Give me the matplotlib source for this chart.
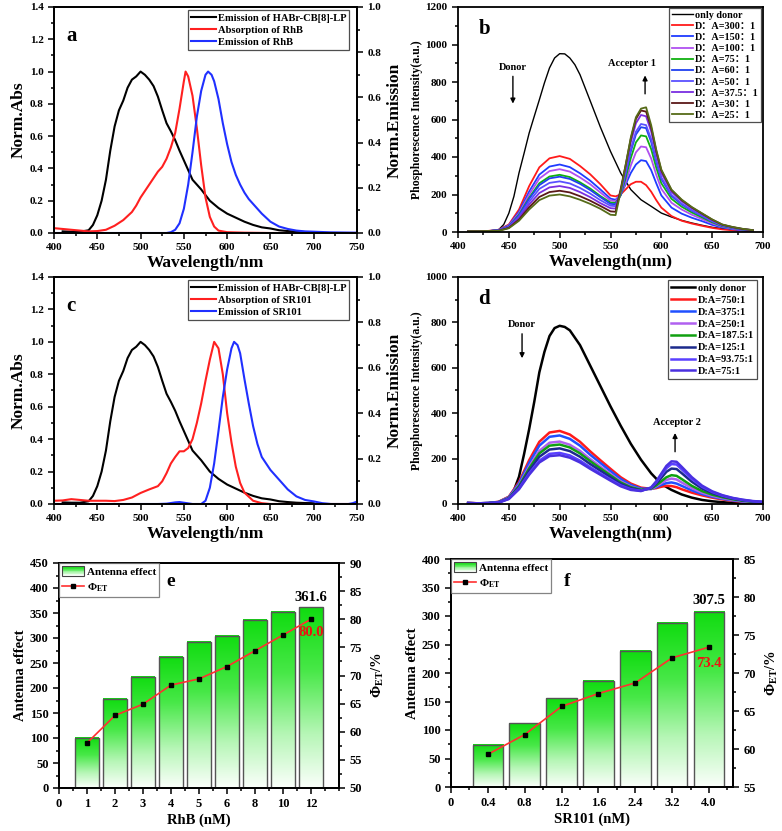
import numpy as np
import matplotlib
matplotlib.use('Agg')
import matplotlib.pyplot as plt
from matplotlib.ticker import MultipleLocator, FixedLocator, FormatStrFormatter
from matplotlib.colors import LinearSegmentedColormap
from matplotlib.legend_handler import HandlerBase
from matplotlib.patches import Rectangle
from matplotlib.lines import Line2D

plt.rcParams['font.family'] = ['Liberation Serif', 'Noto Sans CJK SC', 'DejaVu Sans']
plt.rcParams['font.weight'] = 'bold'
plt.rcParams['axes.labelweight'] = 'bold'
plt.rcParams['mathtext.fontset'] = 'custom'
plt.rcParams['mathtext.rm'] = 'Liberation Serif:bold'
plt.rcParams['mathtext.bf'] = 'Liberation Serif:bold'
plt.rcParams['mathtext.it'] = 'Liberation Serif:bold:italic'
plt.rcParams['axes.linewidth'] = 1.3

# ---------------- data: panel a / c ----------------
wl_donor = [410, 420, 430, 440, 445, 450, 455, 460, 465, 470, 475, 480, 485, 490, 495, 500,
            505, 510, 515, 520, 525, 530, 535, 540, 545, 550, 555, 560, 570, 580, 590, 600,
            610, 620, 630, 640, 650, 660, 670, 680, 690, 700]
donor_norm = [0.01, 0.008, 0.008, 0.017, 0.05, 0.11, 0.2, 0.33, 0.51, 0.66, 0.76, 0.82, 0.9, 0.95, 0.97, 1.0,
              0.98, 0.95, 0.91, 0.845, 0.76, 0.68, 0.63, 0.575, 0.51, 0.45, 0.39, 0.33, 0.27, 0.2, 0.155, 0.12,
              0.095, 0.07, 0.05, 0.035, 0.028, 0.017, 0.012, 0.008, 0.006, 0.005]

wl_rhb_abs = [400, 410, 420, 430, 440, 450, 460, 470, 480, 490, 495, 500, 505, 510, 515, 520, 525, 530,
              535, 540, 545, 550, 552, 555, 560, 565, 570, 575, 580, 585, 590, 600, 620, 650, 700, 750]
rhb_abs = [0.03, 0.025, 0.02, 0.015, 0.01, 0.012, 0.02, 0.045, 0.08, 0.13, 0.17, 0.22, 0.26, 0.3, 0.34, 0.38,
           0.41, 0.46, 0.53, 0.62, 0.77, 0.94, 1.0, 0.97, 0.85, 0.65, 0.42, 0.22, 0.1, 0.04, 0.015, 0.005,
           0.002, 0.0, 0.0, 0.0]

wl_rhb_em = [400, 450, 500, 530, 535, 540, 545, 550, 555, 560, 565, 570, 575, 578, 582, 585, 590, 595,
             600, 605, 610, 615, 620, 625, 630, 635, 640, 645, 650, 660, 670, 680, 690, 700, 720, 750]
rhb_em = [0.0, 0.0, 0.0, 0.0, 0.005, 0.02, 0.06, 0.15, 0.3, 0.5, 0.72, 0.88, 0.98, 1.0, 0.98, 0.94, 0.83, 0.68,
          0.55, 0.44, 0.36, 0.3, 0.25, 0.21, 0.18, 0.15, 0.12, 0.095, 0.07, 0.04, 0.025, 0.015, 0.01, 0.008,
          0.004, 0.002]

wl_sr_abs = [400, 410, 420, 430, 440, 450, 460, 470, 480, 490, 500, 510, 515, 520, 525, 530, 535, 540, 545,
             550, 555, 560, 565, 570, 575, 580, 585, 590, 595, 600, 605, 610, 615, 620, 630, 640, 650, 750]
sr_abs = [0.02, 0.022, 0.03, 0.025, 0.02, 0.02, 0.02, 0.018, 0.025, 0.04, 0.068, 0.09, 0.1, 0.11, 0.14, 0.19,
          0.25, 0.29, 0.325, 0.325, 0.345, 0.4, 0.5, 0.62, 0.76, 0.89, 1.0, 0.96, 0.8, 0.56, 0.38, 0.23, 0.13,
          0.07, 0.02, 0.005, 0.0, 0.0]

wl_sr_em = [400, 520, 530, 535, 540, 545, 550, 555, 560, 565, 570, 575, 580, 585, 590, 595, 600, 605, 608, 612,
            615, 620, 625, 630, 635, 640, 645, 650, 655, 660, 665, 670, 680, 690, 700, 710, 720, 740, 745, 750]
sr_em = [0.0, 0.0, 0.002, 0.006, 0.01, 0.012, 0.008, 0.004, 0.0, 0.0, 0.0, 0.02, 0.1, 0.25, 0.45, 0.66, 0.83,
         0.96, 1.0, 0.98, 0.93, 0.77, 0.62, 0.48, 0.37, 0.29, 0.25, 0.21, 0.18, 0.15, 0.12, 0.09, 0.047, 0.025,
         0.016, 0.005, 0.0, 0.0, 0.005, 0.015]

# ---------------- data: panel b ----------------
wl_b_donor = [410, 420, 430, 440, 445, 450, 455, 460, 465, 470, 475, 480, 485, 490, 495, 500, 505, 510, 515,
              520, 530, 540, 550, 560, 570, 580, 590, 600, 610, 620, 630, 640, 650, 660, 670, 680, 690]
b_only_donor = [5, 5, 5, 12, 40, 100, 190, 315, 420, 528, 617, 705, 795, 875, 928, 951, 950, 928, 892,
                839, 700, 560, 430, 315, 226, 172, 137, 101, 80, 62, 48, 36, 25, 18, 12, 9, 5]
wl_b = [410, 420, 430, 440, 450, 460, 470, 480, 490, 500, 510, 520, 530, 540, 550, 555, 560, 565, 570, 575,
        580, 585, 590, 595, 600, 610, 620, 630, 640, 650, 660, 670, 680, 690]
b_300 = [4, 4, 6, 12, 40, 120, 245, 345, 393, 405, 390, 352, 308, 255, 195, 190, 200, 228, 255, 268,
         268, 250, 215, 170, 130, 85, 60, 45, 33, 22, 14, 9, 6, 4]
b_150 = [4, 4, 5, 11, 36, 108, 216, 306, 349, 360, 346, 313, 274, 227, 178, 172, 200, 255, 315, 360,
         383, 378, 330, 260, 195, 130, 98, 76, 58, 38, 24, 15, 9, 6]
b_100 = [4, 4, 5, 10, 34, 100, 200, 285, 325, 335, 322, 291, 255, 211, 168, 165, 200, 265, 355, 425,
         456, 452, 392, 305, 230, 156, 120, 92, 69, 46, 28, 18, 11, 7]
b_75 = [4, 4, 5, 9, 30, 92, 183, 260, 296, 305, 293, 265, 232, 192, 157, 155, 195, 290, 395, 478,
        515, 510, 442, 343, 260, 177, 135, 104, 78, 52, 31, 21, 13, 8]
b_60 = [4, 4, 5, 9, 30, 88, 177, 250, 286, 295, 283, 257, 224, 186, 150, 148, 198, 311, 430, 520,
        559, 554, 480, 373, 283, 192, 147, 113, 85, 57, 34, 23, 14, 8]
b_50 = [4, 4, 5, 8, 27, 81, 162, 230, 262, 270, 259, 235, 205, 170, 140, 138, 204, 320, 442, 535,
        576, 570, 495, 384, 291, 198, 151, 116, 87, 58, 35, 23, 15, 9]
b_37_5 = [4, 4, 5, 7, 25, 74, 147, 208, 238, 245, 235, 213, 186, 154, 127, 125, 220, 347, 479, 580,
          624, 617, 536, 416, 315, 214, 164, 126, 95, 63, 38, 25, 16, 9]
b_30 = [4, 4, 5, 7, 22, 66, 132, 187, 213, 220, 211, 191, 167, 139, 110, 108, 229, 360, 498, 603,
        648, 642, 557, 432, 328, 223, 170, 131, 98, 66, 39, 26, 16, 10]
b_25 = [4, 4, 5, 6, 20, 60, 120, 170, 194, 200, 190, 172, 150, 124, 92, 90, 215, 360, 505, 612,
        658, 665, 570, 439, 333, 226, 173, 133, 100, 67, 40, 27, 17, 10]
b_labels = ['only donor', 'D：A=300：1', 'D：A=150：1', 'D：A=100：1', 'D：A=75：1', 'D：A=60：1',
            'D：A=50：1', 'D：A=37.5：1', 'D：A=30：1', 'D：A=25：1']
b_colors = ['#000000', '#ff1a1a', '#1f3cff', '#b050f0', '#10b010', '#2040f0', '#5a50ff', '#7a2ee0',
            '#5a1818', '#566b18']

# ---------------- data: panel d ----------------
wl_d_donor = [410, 420, 430, 440, 450, 455, 460, 465, 470, 475, 480, 485, 490, 495, 500, 505, 510, 520,
              530, 540, 550, 560, 570, 580, 590, 600, 610, 620, 630, 640, 650, 660, 670, 680, 690, 700]
d_only_donor = [3, 3, 3, 8, 30, 60, 120, 220, 330, 450, 580, 670, 740, 775, 785, 780, 765, 700,
                610, 520, 430, 345, 265, 195, 135, 88, 62, 42, 28, 18, 12, 8, 5, 3, 2, 1]
wl_d = [410, 420, 430, 440, 450, 460, 470, 480, 490, 500, 510, 520, 530, 540, 550, 560, 570, 580, 590,
        595, 600, 605, 610, 615, 620, 630, 640, 650, 660, 670, 680, 690, 700]
d_750 = [5, 3, 4, 10, 32, 97, 193, 274, 315, 322, 306, 274, 232, 193, 155, 118, 90, 72, 67,
         70, 76, 80, 79, 74, 65, 50, 38, 28, 20, 14, 10, 7, 5]
d_375 = [4, 3, 4, 9, 30, 91, 181, 257, 296, 302, 287, 257, 217, 181, 145, 110, 84, 68, 66,
         74, 84, 92, 95, 90, 80, 60, 44, 32, 23, 16, 11, 8, 5]
d_250 = [4, 3, 4, 8, 28, 83, 165, 234, 270, 275, 261, 234, 198, 165, 132, 100, 77, 64, 66,
         78, 92, 106, 112, 108, 95, 70, 50, 36, 26, 18, 12, 8, 6]
d_187_5 = [4, 3, 4, 8, 26, 79, 157, 223, 257, 262, 249, 223, 189, 157, 126, 95, 74, 63, 68,
           82, 100, 118, 127, 124, 110, 80, 57, 41, 30, 21, 14, 10, 7]
d_125 = [4, 3, 4, 7, 25, 74, 147, 208, 240, 245, 233, 208, 176, 147, 118, 89, 70, 60, 70,
         90, 115, 142, 156, 154, 136, 98, 68, 48, 34, 24, 16, 11, 8]
d_93_75 = [4, 3, 4, 7, 23, 68, 135, 191, 221, 225, 214, 191, 162, 135, 108, 82, 65, 58, 72,
           96, 127, 158, 176, 174, 153, 110, 76, 53, 37, 26, 18, 12, 9]
d_75 = [4, 3, 4, 6, 22, 65, 129, 183, 211, 215, 204, 183, 155, 129, 103, 78, 62, 57, 73,
        100, 134, 168, 188, 186, 164, 118, 81, 56, 39, 27, 19, 13, 10]
d_labels = ['only donor', 'D:A=750:1', 'D:A=375:1', 'D:A=250:1', 'D:A=187.5:1', 'D:A=125:1',
            'D:A=93.75:1', 'D:A=75:1']
d_colors = ['#000000', '#ff1a1a', '#2050ff', '#b060f0', '#10a010', '#1c2a8c', '#5a40ff', '#4a30e0']

# ---------------- data: panels e / f ----------------
cats_e = ['1', '2', '3', '4', '5', '6', '8', '10', '12']
antenna_e = [101, 178, 222, 263, 292, 305, 337, 352, 361.6]
phi_e = [58.0, 62.9, 64.9, 68.3, 69.4, 71.6, 74.4, 77.2, 80.0]

cats_f = ['0.4', '0.8', '1.2', '1.6', '2.4', '3.2', '4.0']
antenna_f = [74, 112, 156, 186, 239, 288, 307.5]
phi_f = [59.3, 61.9, 65.6, 67.3, 68.7, 72.0, 73.4]

W, H = 782, 831
fig = plt.figure(figsize=(W / 100, H / 100), dpi=100)


def rect(l, r, t, b):
    return [l / W, 1 - b / H, (r - l) / W, (b - t) / H]


def style(ax, fs=8):
    ax.tick_params(which='both', direction='out', width=1.1, labelsize=fs)
    ax.tick_params(which='major', length=4)
    ax.tick_params(which='minor', length=2)
    for s in ax.spines.values():
        s.set_linewidth(1.3)


def legend_frame(leg):
    f = leg.get_frame()
    f.set_edgecolor('#222222')
    f.set_linewidth(0.9)


# ---------------- panel a / c ----------------
def spectra_panel(box, abs_x, abs_y, em_x, em_y, labels, letter):
    ax = fig.add_axes(rect(*box))
    ax.plot(wl_donor, donor_norm, color='black', lw=1.5, label=labels[0])
    ax.plot(abs_x, abs_y, color='#ff2020', lw=1.5, label=labels[1])
    ax.plot(em_x, em_y, color='#2030ff', lw=1.5, label=labels[2])
    ax.set_xlim(400, 750)
    ax.set_ylim(0, 1.4)
    ax.xaxis.set_major_locator(MultipleLocator(50))
    ax.xaxis.set_minor_locator(MultipleLocator(25))
    ax.yaxis.set_major_locator(MultipleLocator(0.2))
    ax.yaxis.set_minor_locator(MultipleLocator(0.1))
    ax.yaxis.set_major_formatter(FormatStrFormatter('%.1f'))
    style(ax)
    ax.set_xlabel('Wavelength/nm', fontsize=12.5, labelpad=2)
    ax.set_ylabel('Norm.Abs', fontsize=12.5, labelpad=2)
    ax2 = ax.twinx()
    ax2.set_ylim(0, 1.0)
    ax2.yaxis.set_major_locator(MultipleLocator(0.2))
    ax2.yaxis.set_minor_locator(MultipleLocator(0.1))
    ax2.yaxis.set_major_formatter(FormatStrFormatter('%.1f'))
    style(ax2)
    ax2.set_ylabel('Norm.Emission', fontsize=12.5, labelpad=4)
    leg = ax.legend(loc='upper right', bbox_to_anchor=(0.975, 0.985), fontsize=7.6, frameon=True,
                    fancybox=False, borderpad=0.3, labelspacing=0.25, handlelength=2.3,
                    handletextpad=0.2, borderaxespad=0)
    legend_frame(leg)
    ax.text(414, 1.22, letter, fontsize=15, fontweight='bold', va='center', ha='left')
    return ax


spectra_panel((54, 357, 7, 233), wl_rhb_abs, rhb_abs, wl_rhb_em, rhb_em,
              ['Emission of HABr-CB[8]-LP', 'Absorption of RhB', 'Emission of RhB'], 'a')
spectra_panel((54, 357, 277, 504), wl_sr_abs, sr_abs, wl_sr_em, sr_em,
              ['Emission of HABr-CB[8]-LP', 'Absorption of SR101', 'Emission of SR101'], 'c')

# ---------------- panel b ----------------
axb = fig.add_axes(rect(458, 763, 7, 232))
b_series = [b_300, b_150, b_100, b_75, b_60, b_50, b_37_5, b_30, b_25]
axb.plot(wl_b_donor, b_only_donor, color=b_colors[0], lw=1.0, label=b_labels[0])
for ys, c, lab in zip(b_series, b_colors[1:], b_labels[1:]):
    axb.plot(wl_b, ys, color=c, lw=1.3, label=lab)
axb.set_xlim(400, 700)
axb.set_ylim(0, 1200)
axb.xaxis.set_major_locator(MultipleLocator(50))
axb.xaxis.set_minor_locator(MultipleLocator(25))
axb.yaxis.set_major_locator(MultipleLocator(200))
axb.yaxis.set_minor_locator(MultipleLocator(100))
style(axb)
axb.set_xlabel('Wavelength(nm)', fontsize=12.5, labelpad=2)
axb.set_ylabel('Phosphorescence Intensity(a.u.)', fontsize=8.5, labelpad=2)
leg = axb.legend(loc='upper right', bbox_to_anchor=(0.995, 0.995), fontsize=7.3, frameon=True,
                 fancybox=False, borderpad=0.25, labelspacing=0.2, handlelength=2.1,
                 handletextpad=0.2, borderaxespad=0)
legend_frame(leg)
axb.text(420, 1085, 'b', fontsize=15, fontweight='bold', va='center')
axb.text(454, 880, 'Donor', fontsize=7.5, ha='center', va='center')
axb.annotate('', xy=(454, 670), xytext=(454, 845),
             arrowprops=dict(arrowstyle='-|>', color='k', lw=1.0, mutation_scale=7))
axb.text(571, 900, 'Acceptor 1', fontsize=7.5, ha='center', va='center')
axb.annotate('', xy=(584, 850), xytext=(584, 722),
             arrowprops=dict(arrowstyle='-|>', color='k', lw=1.0, mutation_scale=7))

# ---------------- panel d ----------------
axd = fig.add_axes(rect(458, 763, 277, 504))
d_series = [d_750, d_375, d_250, d_187_5, d_125, d_93_75, d_75]
axd.plot(wl_d_donor, d_only_donor, color=d_colors[0], lw=1.8, label=d_labels[0])
for ys, c, lab in zip(d_series, d_colors[1:], d_labels[1:]):
    axd.plot(wl_d, ys, color=c, lw=1.8, label=lab)
axd.set_xlim(400, 700)
axd.set_ylim(0, 1000)
axd.xaxis.set_major_locator(MultipleLocator(50))
axd.xaxis.set_minor_locator(MultipleLocator(25))
axd.yaxis.set_major_locator(MultipleLocator(200))
axd.yaxis.set_minor_locator(MultipleLocator(100))
style(axd)
axd.set_xlabel('Wavelength(nm)', fontsize=12.5, labelpad=2)
axd.set_ylabel('Phosphorescence Intensity(a.u.)', fontsize=8.5, labelpad=2)
leg = axd.legend(loc='upper right', bbox_to_anchor=(0.98, 0.985), fontsize=7.5, frameon=True,
                 fancybox=False, borderpad=0.3, labelspacing=0.25, handlelength=2.3,
                 handletextpad=0.2, borderaxespad=0)
legend_frame(leg)
axd.text(420, 905, 'd', fontsize=15, fontweight='bold', va='center')
axd.text(463, 790, 'Donor', fontsize=7.5, ha='center', va='center')
axd.annotate('', xy=(463, 630), xytext=(463, 762),
             arrowprops=dict(arrowstyle='-|>', color='k', lw=1.0, mutation_scale=7))
axd.text(615, 357, 'Acceptor 2', fontsize=7.5, ha='center', va='center')
axd.annotate('', xy=(613.5, 325), xytext=(613.5, 218),
             arrowprops=dict(arrowstyle='-|>', color='k', lw=1.0, mutation_scale=7))

# ---------------- panels e / f ----------------
gcmap = LinearSegmentedColormap.from_list(
    'gw', [(0, '#fbfffb'), (0.3, '#b6f6b6'), (0.65, '#48e848'), (1, '#10dc10')])
grad = np.linspace(0, 1, 256).reshape(-1, 1)


class GradHandler(HandlerBase):
    def create_artists(self, legend, orig_handle, xdescent, ydescent, width, height, fontsize, trans):
        n = 14
        arts = []
        for i in range(n):
            r = Rectangle((-xdescent, -ydescent + i * height / n), width, height / n + 0.2,
                          facecolor=gcmap(i / (n - 1)), edgecolor='none', transform=trans)
            arts.append(r)
        arts.append(Rectangle((-xdescent, -ydescent), width, height, facecolor='none',
                              edgecolor='#444444', lw=0.8, transform=trans))
        return arts


def bar_panel(box, cats, vals, phis, ylim_l, ystep_l, ylim_r, xmax, width, xlabel,
              top_label, top_xy, phi_label, phi_xy, letter, letter_xy):
    ax = fig.add_axes(rect(*box))
    pos = np.arange(1, len(cats) + 1)
    bars = ax.bar(pos, vals, width=width, facecolor='none', edgecolor='#555555', lw=1.0, zorder=3)
    for b in bars:
        ax.imshow(grad, extent=[b.get_x(), b.get_x() + b.get_width(), 0, b.get_height()],
                  aspect='auto', cmap=gcmap, origin='lower', zorder=2)
    ax.set_xlim(0, xmax)
    ax.set_ylim(*ylim_l)
    ax.xaxis.set_major_locator(FixedLocator(np.arange(0, len(cats) + 1)))
    ax.set_xticklabels(['0'] + cats)
    ax.xaxis.set_minor_locator(MultipleLocator(0.5))
    ax.yaxis.set_major_locator(MultipleLocator(ystep_l))
    ax.yaxis.set_minor_locator(MultipleLocator(ystep_l / 2))
    style(ax, fs=9)
    ax.set_xlabel(xlabel, fontsize=10.5, labelpad=2)
    ax.set_ylabel('Antenna effect', fontsize=10.5, labelpad=2)
    ax2 = ax.twinx()
    ax2.plot(pos, phis, color='#ff3030', lw=1.2, marker='s', ms=3.5, mfc='black', mec='black')
    ax2.set_ylim(*ylim_r)
    ax2.yaxis.set_major_locator(MultipleLocator(5))
    ax2.yaxis.set_minor_locator(MultipleLocator(2.5))
    style(ax2, fs=9)
    ax2.set_ylabel(r'$\Phi_{\mathrm{ET}}$/%', fontsize=10.5, labelpad=6)
    ax.text(top_xy[0], top_xy[1], top_label, fontsize=10.5, ha='center', va='bottom')
    ax2.text(phi_xy[0], phi_xy[1], phi_label, fontsize=10.5, ha='center', va='center', color='#ee1111')
    ax.text(letter_xy[0], letter_xy[1], letter, fontsize=14, fontweight='bold', va='center', ha='center')
    proxy = Rectangle((0, 0), 1, 1)
    line = Line2D([], [], color='#ff3030', lw=1.2, marker='s', ms=3.5, mfc='black', mec='black')
    leg = ax2.legend([proxy, line], ['Antenna effect', r'$\Phi_{\mathrm{ET}}$'],
                     handler_map={proxy: GradHandler()}, loc='upper left', bbox_to_anchor=(0, 1),
                     borderaxespad=0, fontsize=8.0, frameon=True, fancybox=False, borderpad=0.25,
                     labelspacing=0.45, handlelength=2.0, handleheight=1.0, handletextpad=0.3)
    legend_frame(leg)
    leg.get_frame().set_edgecolor('#666666')
    return ax


bar_panel((59, 339, 563, 788), cats_e, antenna_e, phi_e, (0, 450), 50, (50, 90), 10.0, 0.85,
          'RhB (nM)', '361.6', (9, 368), '80.0', (9, 77.6), 'e', (4.0, 413))
bar_panel((451, 733, 559, 787), cats_f, antenna_f, phi_f, (0, 400), 50, (55, 85), 7.65, 0.83,
          'SR101 (nM)', '307.5', (7, 316), '73.4', (7, 71.3), 'f', (3.16, 361))

fig.savefig('out.png', dpi=100)
